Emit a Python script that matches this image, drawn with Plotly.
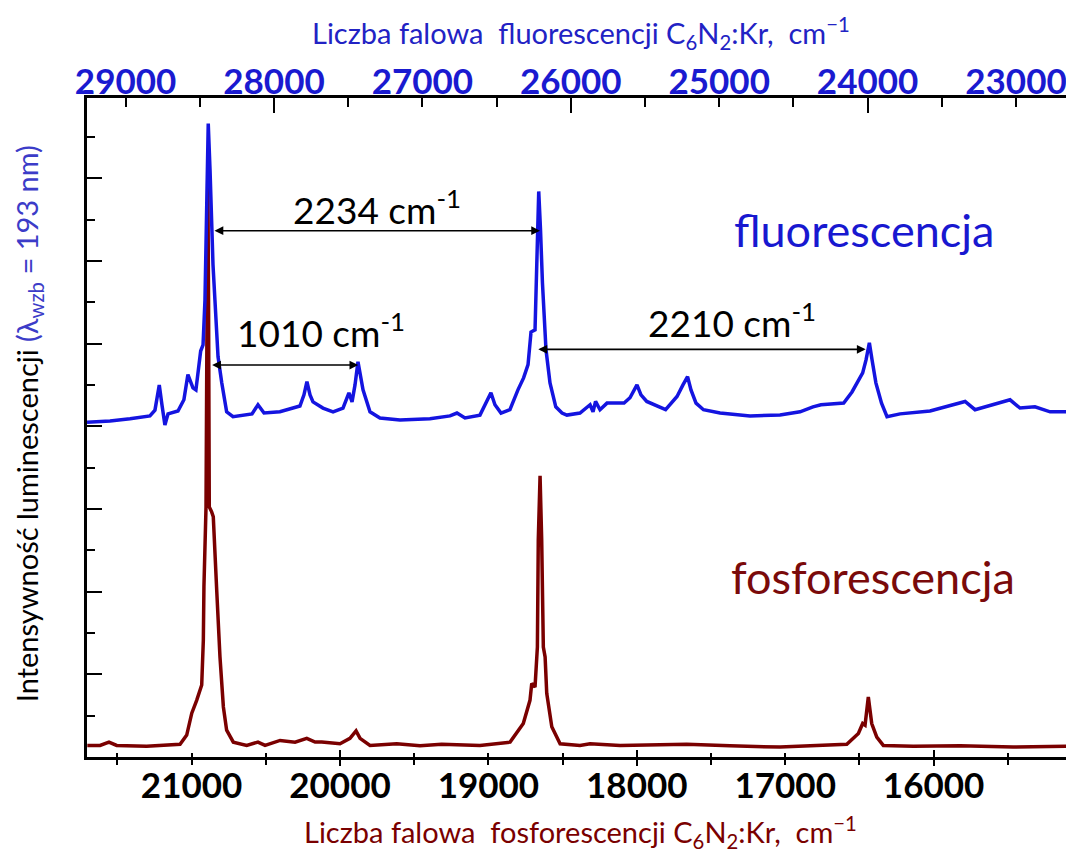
import plotly.graph_objects as go

# ---- data: fluorescence (top axis, cm^-1) ----
fluo_wn = [29260, 29105, 28970, 28836, 28802, 28773, 28755, 28735, 28714, 28647,
           28607, 28580, 28546, 28526, 28494, 28478, 28465, 28455, 28443, 28431,
           28420, 28411, 28398, 28377, 28352, 28319, 28276, 28195, 28148, 28108,
           28067, 27960, 27872, 27825, 27798, 27778, 27757, 27737, 27670, 27602,
           27535, 27495, 27474, 27454, 27434, 27414, 27400, 27353, 27286, 27151,
           26949, 26814, 26767, 26713, 26612, 26538, 26511, 26470, 26410, 26356,
           26318, 26288, 26268, 26241, 26228, 26216, 26204, 26191, 26167, 26140,
           26101, 26059, 26026, 25938, 25870, 25850, 25833, 25803, 25756, 25641,
           25601, 25554, 25527, 25488, 25361, 25318, 25284, 25244, 25213, 25190,
           25156, 25106, 24994, 24792, 24590, 24455, 24368, 24314, 24161, 24105,
           24059, 24033, 24010, 23988, 23970, 23944, 23906, 23869, 23781, 23579,
           23343, 23276, 23040, 22973, 22872, 22770, 22609]
fluo_int = [8.10, 8.13, 8.18, 8.25, 8.39, 9.00, 8.52, 8.03, 8.30, 8.37,
            8.64, 9.25, 8.93, 8.88, 9.82, 9.97, 11.06, 13.48, 15.32, 14.21,
            12.68, 11.91, 11.06, 9.68, 9.05, 8.35, 8.23, 8.27, 8.30, 8.52,
            8.32, 8.35, 8.44, 8.49, 8.76, 9.08, 8.76, 8.59, 8.44, 8.35,
            8.44, 8.81, 8.59, 9.00, 9.56, 9.12, 8.88, 8.35, 8.20, 8.15,
            8.18, 8.25, 8.32, 8.20, 8.27, 8.81, 8.52, 8.32, 8.40, 8.88,
            9.17, 9.49, 10.28, 10.33, 12.03, 13.68, 12.75, 11.47, 9.85, 9.05,
            8.47, 8.32, 8.27, 8.32, 8.52, 8.35, 8.60, 8.40, 8.56, 8.56,
            8.69, 9.00, 8.76, 8.60, 8.40, 8.59, 8.72, 9.00, 9.20, 8.88,
            8.56, 8.40, 8.32, 8.25, 8.27, 8.35, 8.47, 8.52, 8.56, 8.83,
            9.12, 9.29, 9.61, 10.02, 9.61, 9.05, 8.56, 8.23, 8.30, 8.37,
            8.60, 8.40, 8.64, 8.44, 8.47, 8.35, 8.35]

# ---- data: phosphorescence (bottom axis, cm^-1) ----
phos_wn = [21703, 21617, 21557, 21505, 21303, 21078, 21033, 20999, 20966, 20932,
           20921, 20917, 20903, 20896, 20891, 20886, 20881, 20865, 20854, 20831,
           20809, 20786, 20764, 20719, 20629, 20553, 20505, 20404, 20303, 20224,
           20168, 20123, 20000, 19933, 19892, 19865, 19798, 19618, 19461, 19315,
           19057, 18854, 18765, 18720, 18708, 18686, 18670, 18664, 18652, 18641,
           18630, 18618, 18607, 18573, 18517, 18383, 18315, 18113, 17664, 17372,
           17035, 16585, 16507, 16478, 16462, 16440, 16417, 16383, 16339, 16137,
           15822, 15465, 15054]
phos_int = [0.28, 0.28, 0.36, 0.28, 0.26, 0.31, 0.53, 1.06, 1.37, 1.74,
            2.83, 4.12, 6.05, 11.06, 14.21, 11.06, 6.05, 5.93, 5.81, 4.04,
            2.42, 1.21, 0.65, 0.36, 0.28, 0.36, 0.28, 0.40, 0.36, 0.45,
            0.36, 0.36, 0.32, 0.45, 0.63, 0.45, 0.28, 0.32, 0.27, 0.31,
            0.28, 0.36, 0.81, 1.37, 1.78, 1.69, 2.66, 5.25, 6.80, 5.25,
            2.66, 2.42, 1.54, 0.73, 0.32, 0.28, 0.32, 0.28, 0.31, 0.27,
            0.24, 0.31, 0.57, 0.81, 0.77, 1.45, 0.81, 0.48, 0.28, 0.26,
            0.27, 0.24, 0.26]

BOT_RANGE = [21705, 15054]
TOP_RANGE = [29260, 22609]
Y_RANGE = [0, 15.94]

FONT = "Lato"
BLUE = "#1414e0"
DRED = "#7a0000"

fig = go.Figure()
fig.add_trace(go.Scatter(x=phos_wn, y=phos_int, mode="lines", xaxis="x", yaxis="y",
                         line=dict(color=DRED, width=3.5), showlegend=False, hoverinfo="skip"))
fig.add_trace(go.Scatter(x=fluo_wn, y=fluo_int, mode="lines", xaxis="x2", yaxis="y",
                         line=dict(color=BLUE, width=3.5), showlegend=False, hoverinfo="skip"))
# empty traces to activate the helper tick axes
for ax in ["x3", "x4", "x5"]:
    fig.add_trace(go.Scatter(x=[], y=[], xaxis=ax, yaxis="y", showlegend=False))

common = dict(showgrid=False, zeroline=False, autorange=False, automargin=False,
              tickwidth=2, tickcolor="black", tickformat="d")

# page body has an 8px default margin; the figure is sized to fit the 1074x854 window
fig.update_layout(
    width=1066, height=846,
    margin=dict(l=79, r=0, t=90, b=97, autoexpand=False),
    paper_bgcolor="white", plot_bgcolor="white",
    font=dict(family=FONT, color="black"),
    xaxis=dict(range=BOT_RANGE, side="bottom", anchor="y", dtick=1000, tick0=0,
               ticks="outside", ticklen=5, showline=True, linewidth=2.5, linecolor="black",
               minor=dict(dtick=500, tick0=0, ticks="outside", ticklen=5, tickwidth=2, tickcolor="black"),
               tickfont=dict(family=FONT, size=35, color="black", weight="bold"),
               ticklabelstandoff=-9, **common),
    xaxis3=dict(range=BOT_RANGE, overlaying="x", side="bottom", anchor="y", dtick=2000, tick0=0,
                ticks="outside", ticklen=8, showline=False, showticklabels=False,
                minor=dict(dtick=500, tick0=0, ticks="inside", ticklen=4, tickwidth=2, tickcolor="black"),
                **common),
    xaxis4=dict(range=BOT_RANGE, overlaying="x", side="bottom", anchor="y", dtick=2000, tick0=0,
                ticks="inside", ticklen=7, showline=False, showticklabels=False, **common),
    xaxis2=dict(range=TOP_RANGE, overlaying="x", side="top", anchor="y", dtick=1000, tick0=0,
                ticks="inside", ticklen=9, showline=True, linewidth=2.5, linecolor="black",
                minor=dict(dtick=500, tick0=0, ticks="inside", ticklen=9, tickwidth=2, tickcolor="black"),
                tickfont=dict(family=FONT, size=35, color="#1a1ad0", weight="bold"),
                ticklabelstandoff=-13, **common),
    xaxis5=dict(range=TOP_RANGE, overlaying="x", side="top", anchor="y", dtick=2000, tick0=0,
                ticks="inside", ticklen=15, showline=False, showticklabels=False, **common),
    yaxis=dict(range=Y_RANGE, dtick=2, tick0=0, ticks="inside", ticklen=15, showticklabels=False,
               showline=True, linewidth=2.5, linecolor="black",
               minor=dict(dtick=1, tick0=0, ticks="inside", ticklen=8, tickwidth=2, tickcolor="black"),
               **common),
)

# axis titles
fig.add_annotation(xref="paper", yref="paper", x=0.5, y=1, yshift=65, showarrow=False,
                   text="Liczba falowa  fluorescencji C<sub>6</sub>N<sub>2</sub>:Kr,  cm<sup>−1</sup>",
                   font=dict(family=FONT, size=29, color="#2222c4"), xanchor="center", yanchor="middle")
fig.add_annotation(xref="paper", yref="paper", x=0.5, y=0, yshift=-75, showarrow=False,
                   text="Liczba falowa  fosforescencji C<sub>6</sub>N<sub>2</sub>:Kr,  cm<sup>−1</sup>",
                   font=dict(family=FONT, size=29, color="#7a0000"), xanchor="center", yanchor="middle")
fig.add_annotation(xref="paper", yref="paper", x=0, xshift=-59, y=0.505, showarrow=False, textangle=-90,
                   text="Intensywność luminescencji <span style='color:#3c3cc8'>(λ<sub>wzb</sub> = 193 nm)</span>",
                   font=dict(family=FONT, size=29, color="black"), xanchor="center", yanchor="middle")

# series labels
fig.add_annotation(xref="x2", yref="y", x=24024, y=12.75, showarrow=False, text="fluorescencja",
                   font=dict(family=FONT, size=45, color="#1818d0"))
fig.add_annotation(xref="x", yref="y", x=16408, y=4.35, showarrow=False, text="fosforescencja",
                   font=dict(family=FONT, size=45, color="#7a0a0a"))

# spacing labels
for tx, ty, txt in [(27306, 13.31, "2234 cm<sup>-1</sup>"),
                    (27683, 10.33, "1010 cm<sup>-1</sup>"),
                    (24914, 10.57, "2210 cm<sup>-1</sup>")]:
    fig.add_annotation(xref="x2", yref="y", x=tx, y=ty, showarrow=False, text=txt,
                       font=dict(family=FONT, size=37, color="black"))

# double-headed arrows
for x0, x1, yy in [(28411, 26207, 12.73), (28427, 27432, 9.48), (26229, 24013, 9.86)]:
    fig.add_annotation(xref="x2", yref="y", axref="x2", ayref="y", x=x1, y=yy, ax=x0, ay=yy,
                       text="", showarrow=True, arrowside="end+start", arrowhead=2, startarrowhead=2,
                       arrowsize=1.1, startarrowsize=1.1, arrowwidth=1.6, arrowcolor="black",
                       standoff=0, startstandoff=0)

fig.write_html("out.html")
